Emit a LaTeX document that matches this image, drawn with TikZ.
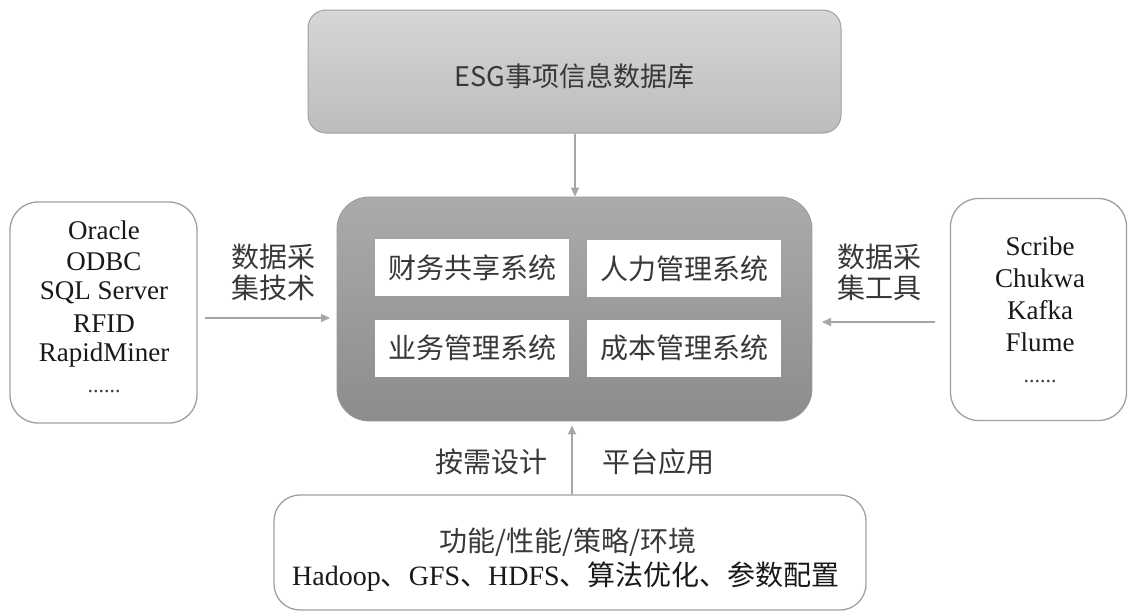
\documentclass[tikz,border=0pt]{standalone}
\usepackage{fontspec}
\setmainfont{Liberation Serif}
\newfontfamily\cjk{Noto Sans CJK SC}
\usetikzlibrary{arrows.meta,shadings}
\definecolor{arrgray}{HTML}{A6A6A6}
\definecolor{bordgray}{HTML}{A0A0A0}
\definecolor{txt}{HTML}{383838}
\begin{document}
\begin{tikzpicture}[x=1pt,y=-1pt,
  arr/.style={draw=arrgray,line width=1.4pt,-{Triangle[length=9pt,width=8pt]}},
  topbox/.style={draw=bordgray,line width=1pt,rounded corners=18pt,top color=black!16,bottom color=black!26,minimum width=533pt,minimum height=123pt,inner sep=0pt},
  midbox/.style={draw=black!40,line width=0.8pt,rounded corners=32pt,top color=black!33,bottom color=black!45,minimum width=475pt,minimum height=224pt,inner sep=0pt},
  inbox/.style={fill=white,minimum width=194pt,minimum height=57pt,inner sep=0pt,font=\cjk\fontsize{28}{30}\selectfont,text=txt},
  wbox/.style={draw=bordgray,line width=1.3pt,fill=white,inner sep=0pt},
  lbl/.style={font=\cjk\fontsize{28}{30}\selectfont,text=txt,align=center},
  lst/.style={font=\fontsize{27}{31}\selectfont,text=black!90,align=center},
  dots/.style={font=\fontsize{22}{24}\selectfont,text=black!75}
]
\useasboundingbox (0,0) rectangle (1128,613);
% boxes
\node[topbox] (top) at (574.5,71.5) {};
\node[font=\cjk\fontsize{27}{30}\selectfont,text=txt] (toptxt) at (574.5,76) {ESG事项信息数据库};
\node[midbox] (mid) at (574.5,309) {};
\node[inbox] (b1) at (472,267.5) {财务共享系统};
\node[inbox] (b2) at (684,268.5) {人力管理系统};
\node[inbox] (b3) at (472,348) {业务管理系统};
\node[inbox] (b4) at (684,348) {成本管理系统};
\node[wbox,rounded corners=28pt,minimum width=187pt,minimum height=221pt] (L) at (103.5,312.5) {};
\node[wbox,rounded corners=28pt,minimum width=176pt,minimum height=222pt] (R) at (1038.5,309.5) {};
\node[wbox,rounded corners=26pt,minimum width=592pt,minimum height=115pt] (B) at (570,552.5) {};
% left list
\node[lst] (l1) at (104,230) {Oracle};
\node[lst] (l2) at (104,262) {ODBC};
\node[lst] (l3) at (104,293) {SQL Server};
\node[lst] (l4) at (104,324) {RFID};
\node[lst] (l5) at (104,355) {RapidMiner};
\node[dots] (l6) at (104,392) {......};
% right list
\node[lst] (r1) at (1040,246) {Scribe};
\node[lst] (r2) at (1040,278) {Chukwa};
\node[lst] (r3) at (1040,310) {Kafka};
\node[lst] (r4) at (1040,342) {Flume};
\node[dots] (r5) at (1040,382) {......};
% labels
\node[lbl] (la1) at (273,257) {数据采};
\node[lbl] (la2) at (273,288) {集技术};
\node[lbl] (ra1) at (879,257) {数据采};
\node[lbl] (ra2) at (879,288) {集工具};
\node[lbl] (ba1) at (491,462) {按需设计};
\node[lbl] (ba2) at (658,462) {平台应用};
% bottom box text
\node[lbl] (bt1) at (568,542) {功能/性能/策略/环境};
\node[font=\fontsize{28}{31}\selectfont,text=black!90] (bt2) at (566,577) {Hadoop{\cjk 、}GFS{\cjk 、}HDFS{\cjk 、算法优化、参数配置}};
% arrows
\coordinate (a1s) at (205,318);
\coordinate (a1e) at (330,318);
\coordinate (a2s) at (935,322);
\coordinate (a2e) at (822,322);
\draw[arr] (top.south -| 575,0) -- (mid.north -| 575,0);
\draw[arr] (a1s) -- (a1e);
\draw[arr] (a2s) -- (a2e);
\draw[arr] (B.north -| 572,0) -- ([yshift=-4pt]mid.south -| 572,0);
\end{tikzpicture}
\end{document}
